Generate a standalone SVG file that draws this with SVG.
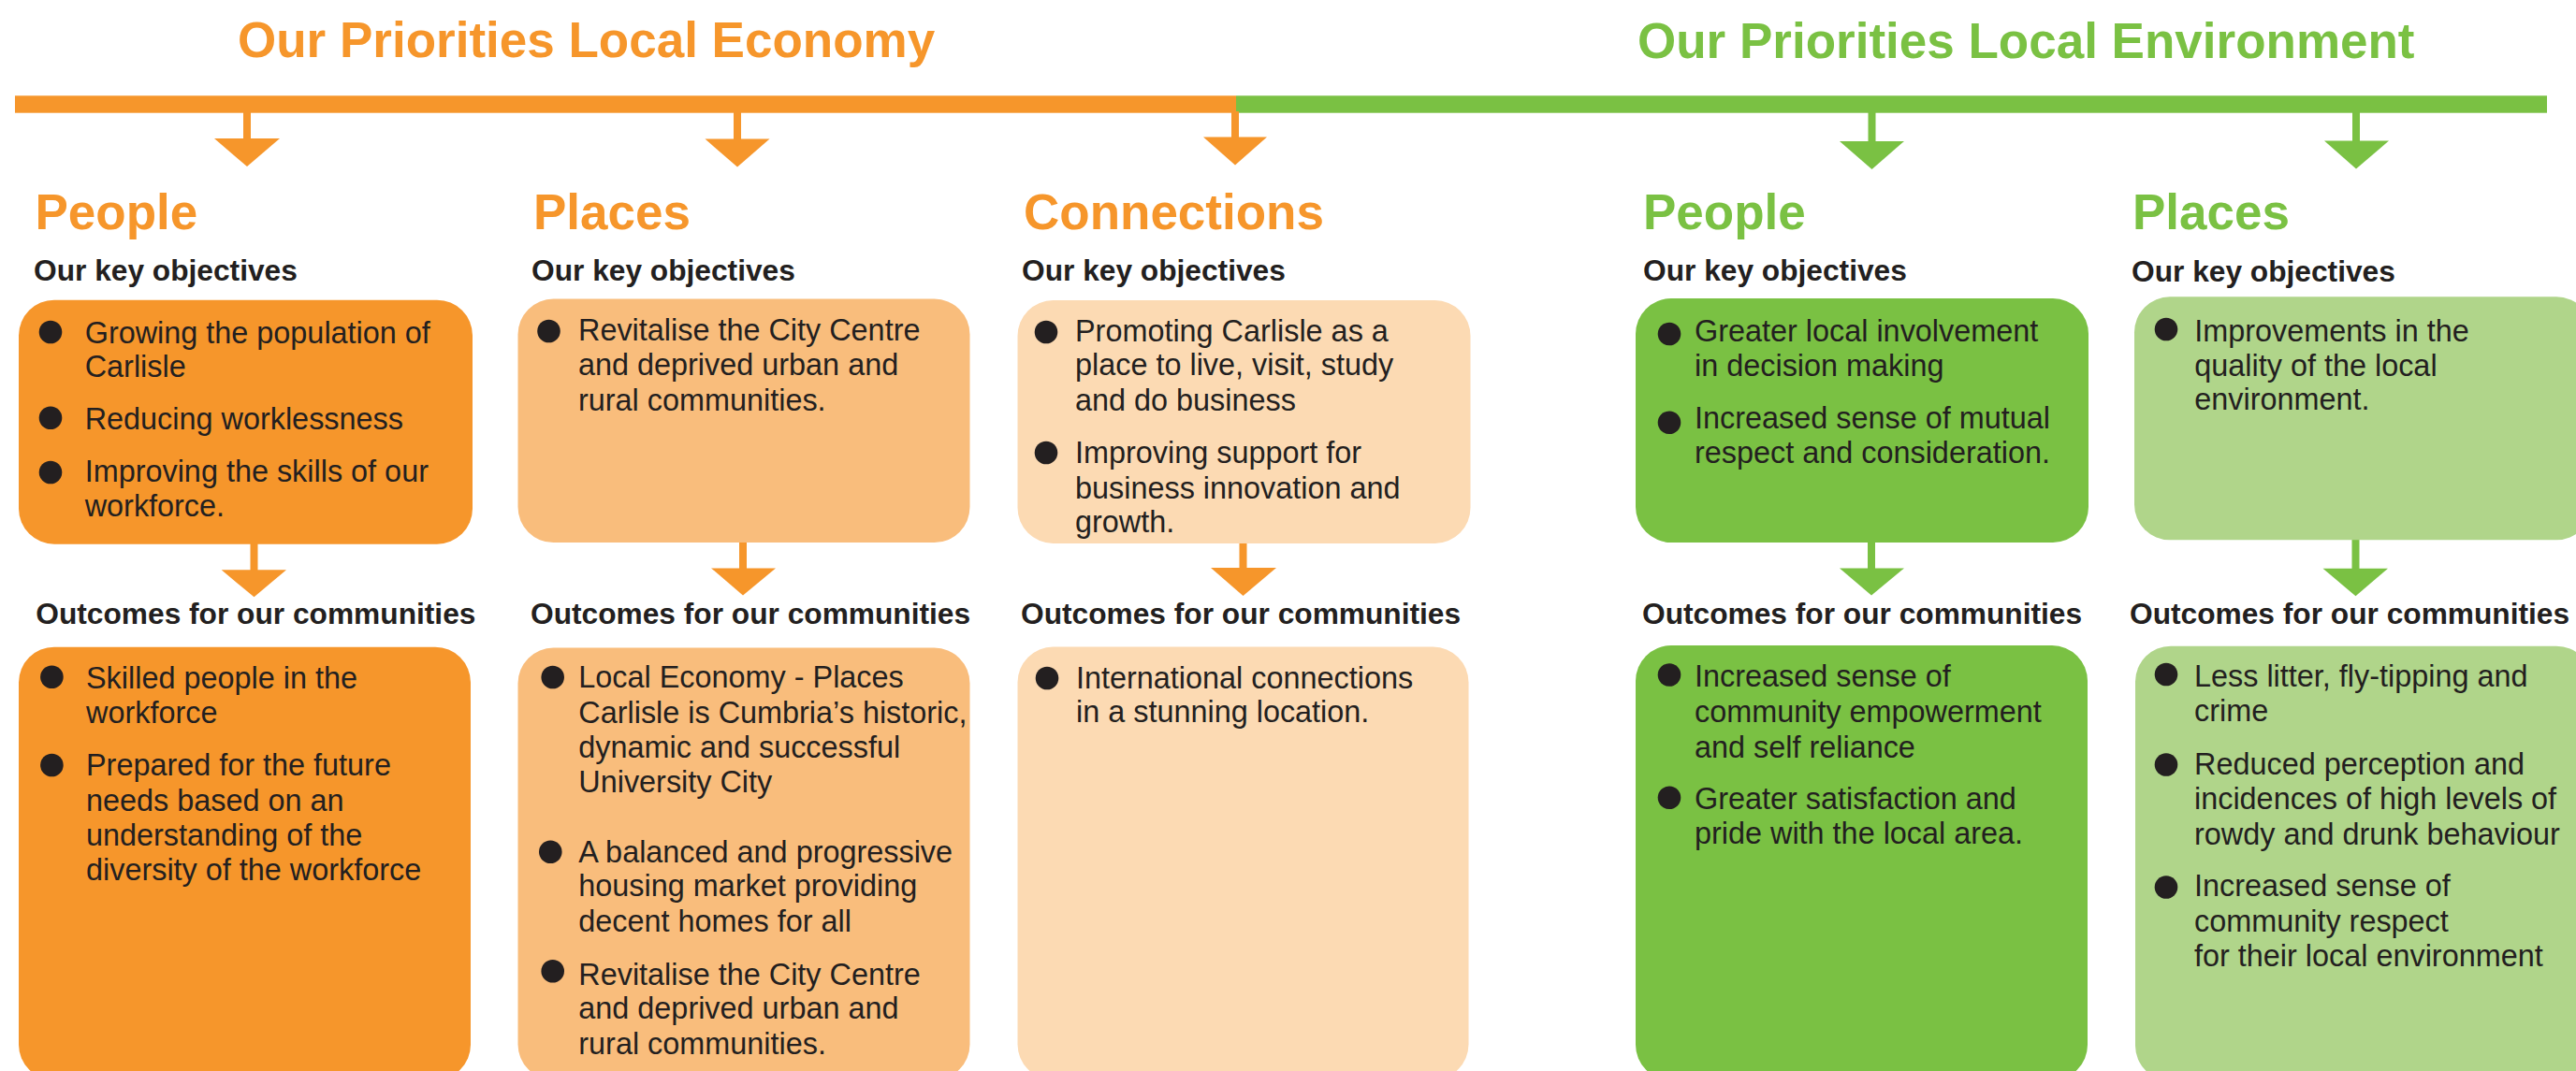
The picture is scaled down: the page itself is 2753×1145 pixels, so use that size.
<svg xmlns="http://www.w3.org/2000/svg" width="2753" height="1145" viewBox="0 0 2753 1145">
  <style>
    .title { font-family: "Liberation Sans", Arial, sans-serif; font-weight: bold; font-size: 53px; }
    .head { font-family: "Liberation Sans", Arial, sans-serif; font-weight: bold; font-size: 53px; }
    .sub { font-family: "Liberation Sans", Arial, sans-serif; font-weight: bold; font-size: 31.7px; fill: #231F20; }
    .body { font-family: "Liberation Sans", Arial, sans-serif; font-size: 32.4px; fill: #231F20; }
    .eco { fill: #F6962B; }
    .env { fill: #7AC143; }
    .dot { fill: #231F20; }
    .b1 { fill: #F6962B; }
    .b2 { fill: #F9BD7C; }
    .b3 { fill: #FCDAB3; }
    .g1 { fill: #7AC143; }
    .g2 { fill: #B0D58A; }
  </style>

  <rect width="2753" height="1145" fill="#FFFFFF"/>

  <!-- section titles -->
  <g id="title-economy">
    <text class="title eco" x="254" y="61">Our Priorities Local Economy</text>
  </g>
  <g id="title-environment">
    <text class="title env" x="1750" y="62">Our Priorities Local Environment</text>
  </g>

  <!-- priority bar and arrows -->
  <g id="connectors">
    <rect class="eco" x="16" y="102.3" width="1305" height="18.4"/>
    <rect class="env" x="1321" y="102.3" width="1401" height="18.4"/>

    <!-- bar to themes -->
    <rect class="eco" x="260" y="119" width="8" height="30"/>
    <polygon class="eco" points="229,148 299,148 264,178"/>
    <rect class="eco" x="784" y="119" width="8" height="30"/>
    <polygon class="eco" points="753.5,148.5 822.5,148.5 788,178.5"/>
    <rect class="eco" x="1316" y="119" width="8" height="28"/>
    <polygon class="eco" points="1286,146.5 1354,146.5 1320,176.5"/>
    <rect class="env" x="1996.5" y="119" width="8" height="33"/>
    <polygon class="env" points="1966,151 2035,151 2000.5,181"/>
    <rect class="env" x="2514" y="119" width="8" height="32"/>
    <polygon class="env" points="2484,150.5 2553,150.5 2518,180.5"/>

    <!-- objectives to outcomes -->
    <rect class="eco" x="267.5" y="580" width="8" height="30"/>
    <polygon class="eco" points="236.7,609.3 306,609.3 271.5,638.3"/>
    <rect class="eco" x="790" y="578" width="8" height="30"/>
    <polygon class="eco" points="760,607.4 829,607.4 794,636.5"/>
    <rect class="eco" x="1324.5" y="576.8" width="8" height="31"/>
    <polygon class="eco" points="1294,607 1364,607 1328.5,637"/>
    <rect class="env" x="1996" y="578" width="8" height="30"/>
    <polygon class="env" points="1966,607.4 2035,607.4 2000,636.5"/>
    <rect class="env" x="2513.5" y="575" width="8" height="33"/>
    <polygon class="env" points="2482.5,607.7 2552,607.7 2517.5,637.3"/>
  </g>

  <!-- Local Economy: People -->
  <g id="eco-people">
    <text class="head eco" x="37.5" y="244.5">People</text>
    <text class="sub" x="36" y="299.5">Our key objectives</text>
    <rect class="b1" x="20" y="320.7" width="485" height="261" rx="38"/>
    <circle class="dot" cx="54" cy="355" r="12.3"/>
    <text class="body" x="90.7" y="366.7">Growing the population of</text>
    <text class="body" x="90.7" y="402.7">Carlisle</text>
    <circle class="dot" cx="54" cy="446.7" r="12.3"/>
    <text class="body" x="90.7" y="459.3">Reducing worklessness</text>
    <circle class="dot" cx="54" cy="505" r="12.3"/>
    <text class="body" x="90.7" y="515">Improving the skills of our</text>
    <text class="body" x="90.7" y="551.7">workforce.</text>
  </g>
  <g id="eco-people-outcomes">
    <text class="sub" x="38.3" y="666.7">Outcomes for our communities</text>
    <rect class="b1" x="20" y="691.7" width="483" height="463" rx="38"/>
    <circle class="dot" cx="55.4" cy="723.8" r="12.3"/>
    <text class="body" x="92" y="736">Skilled people in the</text>
    <text class="body" x="92" y="773">workforce</text>
    <circle class="dot" cx="55.4" cy="818" r="12.3"/>
    <text class="body" x="92" y="829">Prepared for the future</text>
    <text class="body" x="92" y="867">needs based on an</text>
    <text class="body" x="92" y="904">understanding of the</text>
    <text class="body" x="92" y="941">diversity of the workforce</text>
  </g>

  <!-- Local Economy: Places -->
  <g id="eco-places">
    <text class="head eco" x="570" y="244.5">Places</text>
    <text class="sub" x="568" y="300">Our key objectives</text>
    <rect class="b2" x="553.5" y="319.6" width="483" height="260.5" rx="38"/>
    <circle class="dot" cx="586.5" cy="354" r="12.3"/>
    <text class="body" x="618" y="363.6">Revitalise the City Centre</text>
    <text class="body" x="618" y="400.8">and deprived urban and</text>
    <text class="body" x="618" y="438.5">rural communities.</text>
  </g>
  <g id="eco-places-outcomes">
    <text class="sub" x="567" y="666.7">Outcomes for our communities</text>
    <rect class="b2" x="553.5" y="692.5" width="483" height="462" rx="38"/>
    <circle class="dot" cx="590.7" cy="724" r="12.3"/>
    <text class="body" x="618.3" y="735">Local Economy - Places</text>
    <text class="body" x="618.3" y="772.7">Carlisle is Cumbria’s historic,</text>
    <text class="body" x="618.3" y="810">dynamic and successful</text>
    <text class="body" x="618.3" y="846.7">University City</text>
    <circle class="dot" cx="588.3" cy="910.7" r="12.3"/>
    <text class="body" x="618.3" y="921.7">A balanced and progressive</text>
    <text class="body" x="618.3" y="958.3">housing market providing</text>
    <text class="body" x="618.3" y="996">decent homes for all</text>
    <circle class="dot" cx="590.7" cy="1038.3" r="12.3"/>
    <text class="body" x="618.3" y="1052.7">Revitalise the City Centre</text>
    <text class="body" x="618.3" y="1089.3">and deprived urban and</text>
    <text class="body" x="618.3" y="1126.7">rural communities.</text>
  </g>

  <!-- Local Economy: Connections -->
  <g id="eco-connections">
    <text class="head eco" x="1094" y="244.5">Connections</text>
    <text class="sub" x="1092" y="300">Our key objectives</text>
    <rect class="b3" x="1087.5" y="321" width="484" height="260" rx="38"/>
    <circle class="dot" cx="1118" cy="355" r="12.3"/>
    <text class="body" x="1149" y="364.8">Promoting Carlisle as a</text>
    <text class="body" x="1149" y="401.2">place to live, visit, study</text>
    <text class="body" x="1149" y="438.8">and do business</text>
    <circle class="dot" cx="1118" cy="484" r="12.3"/>
    <text class="body" x="1149" y="495">Improving support for</text>
    <text class="body" x="1149" y="532.8">business innovation and</text>
    <text class="body" x="1149" y="569">growth.</text>
  </g>
  <g id="eco-connections-outcomes">
    <text class="sub" x="1091" y="666.7">Outcomes for our communities</text>
    <rect class="b3" x="1087.5" y="691.5" width="482" height="463" rx="38"/>
    <circle class="dot" cx="1119" cy="725" r="12.3"/>
    <text class="body" x="1150" y="736">International connections</text>
    <text class="body" x="1150" y="772">in a stunning location.</text>
  </g>

  <!-- Local Environment: People -->
  <g id="env-people">
    <text class="head env" x="1756" y="244.5">People</text>
    <text class="sub" x="1756" y="300">Our key objectives</text>
    <rect class="g1" x="1748" y="319" width="484" height="261" rx="38"/>
    <circle class="dot" cx="1784" cy="357" r="12.3"/>
    <text class="body" x="1811" y="364.8">Greater local involvement</text>
    <text class="body" x="1811" y="402">in decision making</text>
    <circle class="dot" cx="1784" cy="451.7" r="12.3"/>
    <text class="body" x="1811" y="458.3">Increased sense of mutual</text>
    <text class="body" x="1811" y="495">respect and consideration.</text>
  </g>
  <g id="env-people-outcomes">
    <text class="sub" x="1755" y="666.7">Outcomes for our communities</text>
    <rect class="g1" x="1748" y="690" width="483" height="465" rx="38"/>
    <circle class="dot" cx="1784" cy="721.5" r="12.3"/>
    <text class="body" x="1811" y="734">Increased sense of</text>
    <text class="body" x="1811" y="772">community empowerment</text>
    <text class="body" x="1811" y="810">and self reliance</text>
    <circle class="dot" cx="1784" cy="852.8" r="12.3"/>
    <text class="body" x="1811" y="865">Greater satisfaction and</text>
    <text class="body" x="1811" y="902">pride with the local area.</text>
  </g>

  <!-- Local Environment: Places -->
  <g id="env-places">
    <text class="head env" x="2279" y="244.5">Places</text>
    <text class="sub" x="2278" y="300.5">Our key objectives</text>
    <rect class="g2" x="2281" y="317.3" width="489" height="260" rx="38"/>
    <circle class="dot" cx="2315" cy="352" r="12.3"/>
    <text class="body" x="2345.3" y="365">Improvements in the</text>
    <text class="body" x="2345.3" y="401.7">quality of the local</text>
    <text class="body" x="2345.3" y="438.3">environment.</text>
  </g>
  <g id="env-places-outcomes">
    <text class="sub" x="2276" y="666.7">Outcomes for our communities</text>
    <rect class="g2" x="2282" y="690.7" width="488" height="465" rx="38"/>
    <circle class="dot" cx="2315" cy="721" r="12.3"/>
    <text class="body" x="2345" y="734">Less litter, fly-tipping and</text>
    <text class="body" x="2345" y="771">crime</text>
    <circle class="dot" cx="2315" cy="817.5" r="12.3"/>
    <text class="body" x="2345" y="827.5">Reduced perception and</text>
    <text class="body" x="2345" y="865">incidences of high levels of</text>
    <text class="body" x="2345" y="903">rowdy and drunk behaviour</text>
    <circle class="dot" cx="2315" cy="948.5" r="12.3"/>
    <text class="body" x="2345" y="958">Increased sense of</text>
    <text class="body" x="2345" y="996">community respect</text>
    <text class="body" x="2345" y="1033">for their local environment</text>
  </g>
</svg>
